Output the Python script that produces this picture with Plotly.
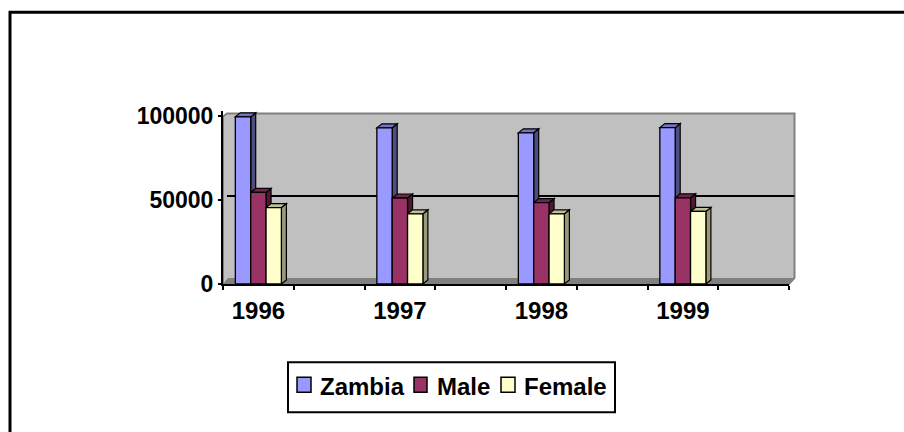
import plotly.graph_objects as go

# ---- data ----
years = ["1996", "1997", "1998", "1999"]
zambia = [99500, 93000, 90000, 93100]
male = [54500, 51200, 48500, 51300]
female = [45500, 41800, 41800, 43200]
series_names = ["Zambia", "Male", "Female"]
y_tick_vals = [0, 50000, 100000]

# ---- geometry / style (reference pixel frame) ----
W, H = 904, 432
L_PX, R_PX = 223, 789          # plot area left/right (front)
B_PX = 284                      # y pixel of value 0
PX_PER_Y = 167.5 / 100000
YMAX = 103000
T_PX = B_PX - YMAX * PX_PER_Y
N_SLOTS = 8
SLOT_PX = (R_PX - L_PX) / N_SLOTS

front_cols = ["#9999FF", "#993366", "#FFFFCC"]
side_cols = ["#4D4D80", "#4D1A33", "#9A9A7A"]
top_cols = ["#7373BF", "#73264D", "#BFBF99"]
FONT = "Liberation Sans, Arial, sans-serif"

series_vals = [zambia, male, female]
xpos = [2 * i for i in range(len(years))]
bar_w = 0.217
offsets = [-1.5 * bar_w + j * bar_w for j in range(3)]
dx = 5 / SLOT_PX
dy = 4 / PX_PER_Y


def px_x(px):
    return (px - L_PX) / (R_PX - L_PX)


def px_y(py):
    return (B_PX - py) / (B_PX - T_PX)


def ppath(points):
    s = "M " + " L ".join(f"{px_x(a):.5f},{px_y(b):.5f}" for a, b in points)
    return s + " Z"


fig = go.Figure()
for j, name in enumerate(series_names):
    fig.add_bar(
        x=xpos, y=series_vals[j], name=name, width=bar_w, offset=offsets[j],
        marker=dict(color=front_cols[j], line=dict(color="black", width=1.3)),
        showlegend=False,
    )

shapes = []
annotations = []
# outer frame
shapes.append(dict(type="path", xref="paper", yref="paper", layer="below",
                   path=f"M {px_x(10):.5f},{px_y(445):.5f} L {px_x(10):.5f},{px_y(13):.5f} L {px_x(915):.5f},{px_y(13):.5f}",
                   line=dict(color="black", width=3)))
# back wall
shapes.append(dict(type="path", xref="paper", yref="paper", layer="below",
                   path=ppath([(223, 117), (227, 114), (794.5, 114), (794.5, 278), (789, 284), (223, 284)]),
                   fillcolor="#C0C0C0", line=dict(color="#808080", width=2)))
# floor
shapes.append(dict(type="path", xref="paper", yref="paper", layer="below",
                   path=ppath([(223, 284), (228, 278), (794.5, 278), (789, 284)]),
                   fillcolor="#808080", line=dict(width=0)))
# back gridline at 50000
gy = B_PX - 50000 * PX_PER_Y - 4
shapes.append(dict(type="line", xref="paper", yref="paper", layer="below",
                   x0=px_x(227), x1=px_x(794.5), y0=px_y(gy), y1=px_y(gy),
                   line=dict(color="black", width=2)))

# 3D faces of bars from data
for j in range(3):
    for i, v in enumerate(series_vals[j]):
        xl = xpos[i] + offsets[j]
        xr = xl + bar_w
        side = f"M {xr},0 L {xr},{v} L {xr+dx},{v+dy} L {xr+dx},{dy} Z"
        top = f"M {xl},{v} L {xr},{v} L {xr+dx},{v+dy} L {xl+dx},{v+dy} Z"
        shapes.append(dict(type="path", xref="x", yref="y", layer="between", path=side,
                           fillcolor=side_cols[j], line=dict(color="black", width=1.2)))
        shapes.append(dict(type="path", xref="x", yref="y", layer="between", path=top,
                           fillcolor=top_cols[j], line=dict(color="black", width=1.2)))

# legend (drawn manually to match the compact layout)
shapes.append(dict(type="rect", xref="paper", yref="paper", layer="above",
                   x0=px_x(288), x1=px_x(615), y0=px_y(412), y1=px_y(362),
                   fillcolor="white", line=dict(color="black", width=2)))
sq_left = [297, 414, 501]
sq_w = [14, 13, 14]
txt_left = [318, 435, 522]
for j, name in enumerate(series_names):
    shapes.append(dict(type="rect", xref="paper", yref="paper", layer="above",
                       x0=px_x(sq_left[j]), x1=px_x(sq_left[j] + sq_w[j]),
                       y0=px_y(392), y1=px_y(377),
                       fillcolor=front_cols[j], line=dict(color="black", width=1.5)))
    annotations.append(dict(xref="paper", yref="paper", x=px_x(txt_left[j]), y=px_y(386),
                            xanchor="left", yanchor="middle", showarrow=False, text=name,
                            font=dict(family=FONT, size=24, color="black", weight="bold")))

fig.update_layout(
    width=W, height=H,
    margin=dict(l=L_PX, r=W - R_PX, t=T_PX, b=H - B_PX, pad=0),
    paper_bgcolor="white", plot_bgcolor="rgba(0,0,0,0)",
    barmode="overlay",
    showlegend=False,
    shapes=shapes,
    annotations=annotations,
    font=dict(family=FONT, color="black"),
    xaxis=dict(
        range=[-0.5, N_SLOTS - 0.5], showgrid=False, zeroline=False,
        tickvals=xpos, ticktext=years, ticks="",
        tickfont=dict(family=FONT, size=24, color="black", weight="bold"),
        showline=True, linecolor="black", linewidth=2,
        ticklabelstandoff=4,
        minor=dict(tick0=0.5, dtick=1, ticks="outside", ticklen=4, tickcolor="black", tickwidth=1.5, showgrid=False),
    ),
    yaxis=dict(
        range=[0, YMAX], showgrid=False, zeroline=False,
        tickvals=y_tick_vals, ticktext=[str(v) for v in y_tick_vals],
        ticks="outside", ticklen=3, tickcolor="black", tickwidth=1.5,
        tickfont=dict(family=FONT, size=23, color="black", weight="bold"),
        showline=True, linecolor="black", linewidth=2,
    ),
)

fig.write_html(
    "out.html",
    config={"displayModeBar": False},
    post_script="document.body.style.margin='0';document.body.style.overflow='hidden';",
)
